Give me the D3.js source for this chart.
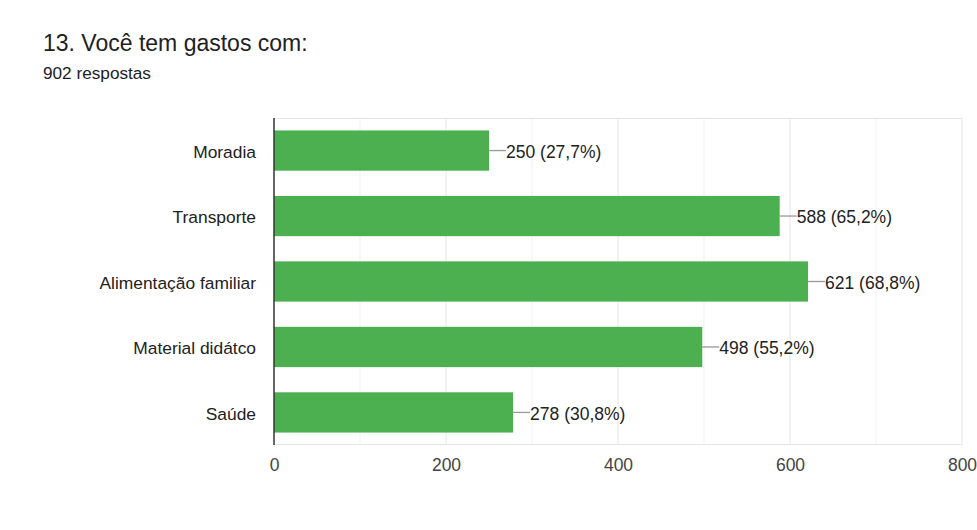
<!DOCTYPE html>
<html lang="pt">
<head>
<meta charset="utf-8">
<style>
  body { margin: 0; background: #fff; }
  text { font-family: "Liberation Sans", Arial, sans-serif; }
</style>
</head>
<body>
<script src="https://d3js.org/d3.v7.min.js"></script>
<script>
  var categories = ["Moradia", "Transporte", "Alimentação familiar", "Material didátco", "Saúde"];
  var counts = [250, 588, 621, 498, 278];
  var percents = ["27,7%", "65,2%", "68,8%", "55,2%", "30,8%"];
  var ticks = [0, 200, 400, 600, 800];
  var minorTicks = [100, 300, 500, 700];

  var width = 977, height = 530;
  var plotLeft = 274, plotRight = 962, plotTop = 118, plotBottom = 445;

  var svg = d3.select("body").append("svg")
    .attr("width", width)
    .attr("height", height);

  svg.append("text")
    .attr("x", 43).attr("y", 51)
    .attr("font-size", 23)
    .attr("font-family", "Roboto, Arial, sans-serif")
    .attr("fill", "#202124")
    .text("13. Você tem gastos com:");

  svg.append("text")
    .attr("x", 43).attr("y", 79)
    .attr("font-size", 17.2)
    .attr("font-family", "Roboto, Arial, sans-serif")
    .attr("fill", "#202124")
    .text("902 respostas");

  var x = d3.scaleLinear().domain([0, 800]).range([plotLeft, plotRight]);
  var y = d3.scaleBand().domain(categories).range([plotTop, plotBottom]).paddingInner(0.385).paddingOuter(0.19);

  // grid
  svg.append("g").selectAll("line")
    .data(minorTicks)
    .enter().append("line")
    .attr("x1", x).attr("x2", x)
    .attr("y1", plotTop).attr("y2", plotBottom)
    .attr("stroke", "#f1f1f1");

  svg.append("g").selectAll("line")
    .data(ticks.slice(1))
    .enter().append("line")
    .attr("x1", x).attr("x2", x)
    .attr("y1", plotTop).attr("y2", plotBottom)
    .attr("stroke", "#e6e6e6");

  svg.append("line")
    .attr("x1", plotLeft).attr("x2", plotRight)
    .attr("y1", plotTop + 0.5).attr("y2", plotTop + 0.5)
    .attr("stroke", "#e6e6e6");
  svg.append("line")
    .attr("x1", plotLeft).attr("x2", plotRight)
    .attr("y1", plotBottom - 0.5).attr("y2", plotBottom - 0.5)
    .attr("stroke", "#e6e6e6");

  // bars
  svg.append("g").selectAll("rect")
    .data(counts)
    .enter().append("rect")
    .attr("x", x(0))
    .attr("y", function (d, i) { return y(categories[i]); })
    .attr("width", function (d) { return x(d) - x(0); })
    .attr("height", y.bandwidth())
    .attr("fill", "#4caf50");

  // annotation lines + labels
  var ann = svg.append("g").selectAll("g")
    .data(counts)
    .enter().append("g");

  ann.append("line")
    .attr("x1", function (d) { return x(d); })
    .attr("x2", function (d) { return x(d) + 17; })
    .attr("y1", function (d, i) { return y(categories[i]) + y.bandwidth() / 2; })
    .attr("y2", function (d, i) { return y(categories[i]) + y.bandwidth() / 2; })
    .attr("stroke", "#999")
    .attr("stroke-width", 1.3);

  ann.append("text")
    .attr("x", function (d) { return x(d) + 17; })
    .attr("y", function (d, i) { return y(categories[i]) + y.bandwidth() / 2 + 1; })
    .attr("dy", "0.36em")
    .attr("font-size", 17.5)
    .attr("fill", "#222")
    .text(function (d, i) { return d + " (" + percents[i] + ")"; });

  // category labels
  svg.append("g").selectAll("text")
    .data(categories)
    .enter().append("text")
    .attr("x", 256)
    .attr("y", function (d) { return y(d) + y.bandwidth() / 2 + 1; })
    .attr("dy", "0.36em")
    .attr("text-anchor", "end")
    .attr("font-size", 17.4)
    .attr("fill", "#222")
    .text(function (d) { return d; });

  // y axis line
  svg.append("line")
    .attr("x1", plotLeft).attr("x2", plotLeft)
    .attr("y1", plotTop).attr("y2", plotBottom)
    .attr("stroke", "#333")
    .attr("stroke-width", 1.5);

  // x tick labels
  var xAxis = svg.append("g")
    .attr("transform", "translate(0," + plotBottom + ")")
    .call(d3.axisBottom(x).tickValues(ticks).tickSize(0).tickPadding(14));
  xAxis.select(".domain").remove();
  xAxis.selectAll("text")
    .attr("font-size", 17.5)
    .attr("font-family", "\"Liberation Sans\", Arial, sans-serif")
    .attr("fill", "#444");
</script>
</body>
</html>
